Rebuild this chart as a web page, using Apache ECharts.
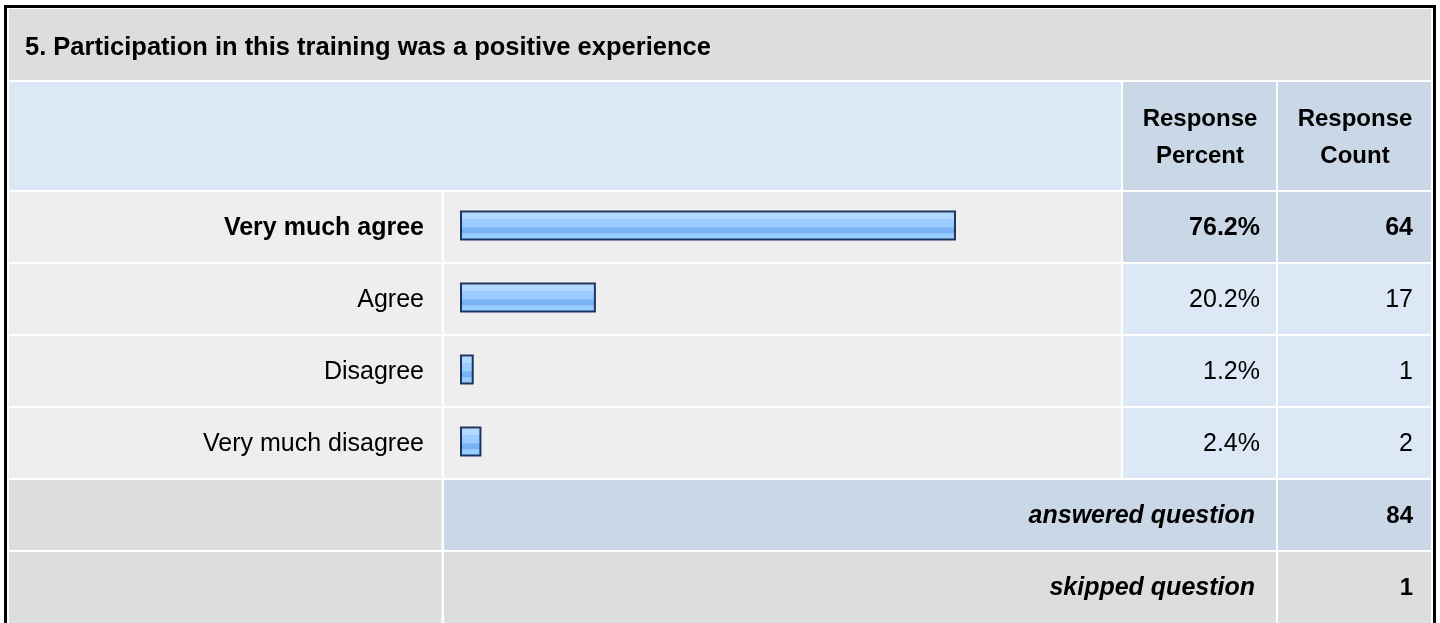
<!DOCTYPE html>
<html>
<head>
<meta charset="utf-8">
<script src="https://cdn.jsdelivr.net/npm/echarts@6/dist/echarts.min.js"></script>
<style>
html,body{margin:0;padding:0;background:#ffffff;}
#chart{width:1440px;height:623px;}
</style>
</head>
<body>
<div id="chart"></div>
<script>
// ---- data ----
const questionTitle = '5. Participation in this training was a positive experience';
const categories = ['Very much agree', 'Agree', 'Disagree', 'Very much disagree'];
const responsePercent = [76.2, 20.2, 1.2, 2.4];
const responseCount = [64, 17, 1, 2];
const headerLabels = ['Response\nPercent', 'Response\nCount'];
const summaryLabels = ['answered question', 'skipped question'];
const summaryValues = [84, 1];
const highlightIndex = 0; // the most chosen answer is shown in bold

// ---- layout / styles ----
const FONT = "'Liberation Sans', Arial, Helvetica, sans-serif";
const C_TITLE = '#dddddd';
const C_HEAD = '#dce8f5';
const C_DARK = '#cad7e6';
const C_ROW = '#eeeeee';
const colX = [[9, 441.5], [444, 1121], [1123, 1276], [1278, 1431]];
const rowY = {
  title: [9, 80], header: [82, 190],
  data: [[192, 262], [264, 334], [336, 406], [408, 478]],
  answered: [480, 550], skipped: [552, 640]
};

const graphics = [];
function cell(x1, y1, x2, y2, color) {
  graphics.push({type: 'rect', z: 0, silent: true,
    shape: {x: x1, y: y1, width: x2 - x1, height: y2 - y1},
    style: {fill: color}});
}
function text(str, x, y, opts) {
  graphics.push({type: 'text', z: 100, silent: true, x: x, y: y,
    style: Object.assign({text: str, fill: '#000000', font: 'bold 25px ' + FONT,
      verticalAlign: 'middle', align: 'left'}, opts || {})});
}

// title row
cell(colX[0][0], rowY.title[0], colX[3][1], rowY.title[1], C_TITLE);
// header row
cell(colX[0][0], rowY.header[0], colX[1][1], rowY.header[1], C_HEAD);
cell(colX[2][0], rowY.header[0], colX[2][1], rowY.header[1], C_DARK);
cell(colX[3][0], rowY.header[0], colX[3][1], rowY.header[1], C_DARK);
// data rows
rowY.data.forEach(function (r, i) {
  const side = i === highlightIndex ? C_DARK : C_HEAD;
  cell(colX[0][0], r[0], colX[0][1], r[1], C_ROW);
  cell(colX[1][0], r[0], colX[1][1], r[1], C_ROW);
  cell(colX[2][0], r[0], colX[2][1], r[1], side);
  cell(colX[3][0], r[0], colX[3][1], r[1], side);
});
// summary rows
cell(colX[0][0], rowY.answered[0], colX[0][1], rowY.answered[1], C_TITLE);
cell(colX[1][0], rowY.answered[0], colX[2][1], rowY.answered[1], C_DARK);
cell(colX[3][0], rowY.answered[0], colX[3][1], rowY.answered[1], C_DARK);
cell(colX[0][0], rowY.skipped[0], colX[0][1], rowY.skipped[1], C_TITLE);
cell(colX[1][0], rowY.skipped[0], colX[2][1], rowY.skipped[1], C_TITLE);
cell(colX[3][0], rowY.skipped[0], colX[3][1], rowY.skipped[1], C_TITLE);
// outer border
graphics.push({type: 'rect', z: 120, silent: true,
  shape: {x: 5.5, y: 6.5, width: 1429, height: 700},
  style: {fill: 'none', stroke: '#000000', lineWidth: 3}});

// texts
text(questionTitle, 25, 48, {font: 'bold 25.5px ' + FONT});
text(headerLabels[0], 1200, 138, {align: 'center', lineHeight: 37, font: 'bold 24px ' + FONT});
text(headerLabels[1], 1355, 138, {align: 'center', lineHeight: 37, font: 'bold 24px ' + FONT});
text(summaryLabels[0], 1255, 516, {align: 'right', font: 'italic bold 25px ' + FONT});
text(String(summaryValues[0]), 1413, 516, {align: 'right', font: 'bold 24px ' + FONT});
text(summaryLabels[1], 1255, 588, {align: 'right', font: 'italic bold 25px ' + FONT});
text(String(summaryValues[1]), 1413, 588, {align: 'right', font: 'bold 24px ' + FONT});

const barFill = new echarts.graphic.LinearGradient(0, 0, 0, 1, [
  {offset: 0, color: '#d2e9ff'},
  {offset: 0.09, color: '#d2e9ff'},
  {offset: 0.1, color: '#b2d9ff'},
  {offset: 0.27, color: '#b2d9ff'},
  {offset: 0.28, color: '#9acdff'},
  {offset: 0.56, color: '#9acdff'},
  {offset: 0.57, color: '#78b2f4'},
  {offset: 0.76, color: '#78b2f4'},
  {offset: 0.77, color: '#99ccff'},
  {offset: 1, color: '#99ccff'}
]);

const chart = echarts.init(document.getElementById('chart'), null, {renderer: 'canvas'});
chart.setOption({
  animation: false,
  backgroundColor: '#ffffff',
  graphic: {elements: graphics},
  grid: {left: 466, width: 643, top: 191, height: 288, containLabel: false},
  xAxis: {type: 'value', min: 0, max: 100, show: false},
  yAxis: {
    type: 'category', data: categories, inverse: true,
    axisLine: {show: false}, axisTick: {show: false}, splitLine: {show: false},
    axisLabel: {
      margin: 42, align: 'right',
      formatter: function (v, i) { return (i === highlightIndex ? '{b|' : '{n|') + v + '}'; },
      rich: {
        b: {fontFamily: FONT, fontWeight: 'bold', fontSize: 25, color: '#000', padding: [3, 0, 0, 0]},
        n: {fontFamily: FONT, fontWeight: 'normal', fontSize: 25, color: '#000', padding: [3, 0, 0, 0]}
      }
    }
  },
  series: [
    {
      type: 'custom', z: 10, silent: true,
      encode: {x: 0, y: 1},
      data: responsePercent.map(function (p, i) { return [p, i]; }),
      renderItem: function (params, api) {
        const v = api.value(0), idx = api.value(1);
        const p0 = api.coord([0, idx]);
        const p1 = api.coord([v, idx]);
        const cy = p0[1] - 1;
        return {
          type: 'rect',
          shape: {x: p0[0] - 5, y: cy - 14.5, width: p1[0] - p0[0] + 4, height: 28},
          style: {fill: barFill, stroke: '#1c355e', lineWidth: 2}
        };
      }
    },
    {
      type: 'custom', z: 20, silent: true,
      encode: {x: 0, y: 1},
      data: responsePercent.map(function (p, i) { return [p, i, responseCount[i]]; }),
      renderItem: function (params, api) {
        const v = api.value(0), idx = api.value(1), cnt = api.value(2);
        const c = api.coord([0, idx]);
        const font = (idx === highlightIndex ? 'bold ' : '') + '25px ' + FONT;
        return {
          type: 'group',
          children: [
            {type: 'text', x: 1260, y: c[1] + 1.5,
              style: {text: v.toFixed(1) + '%', font: font, fill: '#000', align: 'right', verticalAlign: 'middle'}},
            {type: 'text', x: 1413, y: c[1] + 1.5,
              style: {text: String(cnt), font: font, fill: '#000', align: 'right', verticalAlign: 'middle'}}
          ]
        };
      }
    }
  ]
});
</script>
</body>
</html>
